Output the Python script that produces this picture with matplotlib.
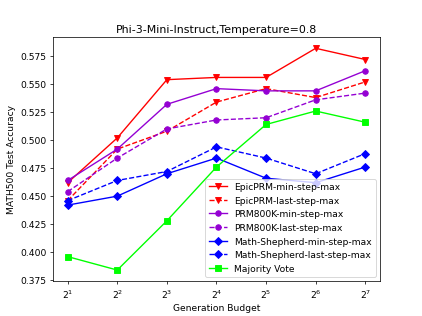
import numpy as np
import matplotlib
matplotlib.use("Agg")
import matplotlib.pyplot as plt

budget = [2, 4, 8, 16, 32, 64, 128]

epic_min = [0.462, 0.502, 0.554, 0.556, 0.556, 0.582, 0.572]
epic_last = [0.446, 0.492, 0.508, 0.534, 0.546, 0.538, 0.552]
prm_min = [0.464, 0.492, 0.532, 0.546, 0.544, 0.544, 0.562]
prm_last = [0.454, 0.484, 0.510, 0.518, 0.520, 0.536, 0.542]
shep_min = [0.442, 0.450, 0.470, 0.484, 0.466, 0.462, 0.476]
shep_last = [0.446, 0.464, 0.472, 0.494, 0.484, 0.470, 0.488]
majority = [0.396, 0.384, 0.428, 0.476, 0.514, 0.526, 0.516]

fig, ax = plt.subplots(figsize=(6.4, 4.8), dpi=66)

ax.plot(budget, epic_min, '-v', color='red', label='EpicPRM-min-step-max')
ax.plot(budget, epic_last, '--v', color='red', label='EpicPRM-last-step-max')
ax.plot(budget, prm_min, '-o', color='darkviolet', label='PRM800K-min-step-max')
ax.plot(budget, prm_last, '--o', color='darkviolet', label='PRM800K-last-step-max')
ax.plot(budget, shep_min, '-D', color='blue', label='Math-Shepherd-min-step-max')
ax.plot(budget, shep_last, '--D', color='blue', label='Math-Shepherd-last-step-max')
ax.plot(budget, majority, '-s', color='lime', label='Majority Vote')

ax.set_xscale('log', base=2)
ax.set_xticks(budget)
ax.set_xticklabels([r'$2^{%d}$' % i for i in range(1, 8)])
ax.minorticks_off()
ax.set_yticks(np.arange(0.375, 0.576, 0.025))
ax.set_xlabel('Generation Budget')
ax.set_ylabel('MATH500 Test Accuracy')
ax.set_title('Phi-3-Mini-Instruct,Temperature=0.8')
ax.legend(loc='lower right')

plt.savefig('out.png', dpi=66)
